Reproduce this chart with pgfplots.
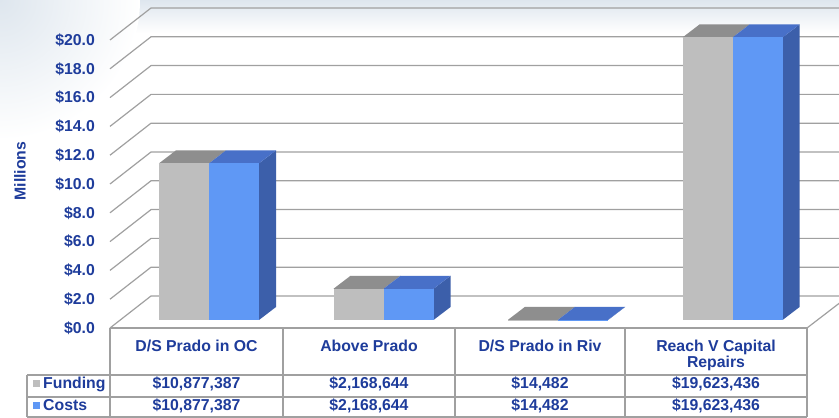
\documentclass[border=0pt]{standalone}
\usepackage{pgfplots}
\pgfplotsset{compat=1.18}
\usepackage{pgfplotstable}
\usepackage{fontspec}
\setmainfont{Liberation Sans}
\definecolor{txt}{RGB}{30,60,155}
\definecolor{gridc}{RGB}{160,160,160}
\definecolor{gfront}{RGB}{190,190,190}
\definecolor{gtop}{RGB}{142,142,142}
\definecolor{bfront}{RGB}{95,152,245}
\definecolor{btop}{RGB}{72,112,200}
\definecolor{bside}{RGB}{60,95,170}
\definecolor{bgtop}{RGB}{222,230,238}

\pgfplotstableread{
idx fund cost
0 10.877387 10.877387
1 2.168644 2.168644
2 0.014482 0.014482
3 19.623436 19.623436
}\datatable

\newcommand{\tfont}{\fontsize{15.8}{18}\selectfont\bfseries}

\begin{document}
\begin{tikzpicture}[x=1pt,y=1pt]
% background
\shade[top color=bgtop, bottom color=white] (0,385) rectangle (839,418);
\shade[inner color=bgtop, outer color=white] (0,418) circle (140);
\fill[white] (0,0) rectangle (839,278);
% back wall grid and left-wall diagonals
\foreach \k in {0,...,10}{
  \draw[gridc, line width=1.2pt] (110,{90+\k*28.8}) -- (151,{122+\k*28.8}) -- (850,{122+\k*28.8});
}
% floor right edge
\draw[gridc, line width=1.2pt] (807,90) -- (850,123);
% table
\draw[gridc, line width=1.4pt] (110,90) -- (807,90);
\draw[gridc, line width=1.4pt] (27,43) -- (807,43);
\draw[gridc, line width=1.4pt] (27,21) -- (807,21);
\draw[gridc, line width=1.4pt] (27,1) -- (807,1);
\foreach \xx in {110,283,455,625,807}{
  \draw[gridc, line width=1.4pt] (\xx,90) -- (\xx,1);
}
\draw[gridc, line width=1.4pt] (27,43) -- (27,1);

\begin{axis}[at={(110pt,90pt)}, anchor=south west, scale only axis,
  width=696pt, height=288pt, xmin=0, xmax=4, ymin=0, ymax=20, clip=false,
  axis line style={draw=none}, major tick length=0pt, xtick=\empty,
  ytick={0,2,...,20},
  /pgf/number format/assume math mode=true,
  yticklabel={\$\pgfmathprintnumber[fixed,fixed zerofill,precision=1]{\tick}},
  yticklabel style={font=\tfont, text=txt, inner sep=0pt, xshift=-15pt, anchor=east}]
\def\bb{0.5556}
\def\ddx{0.0977}
\def\ddy{0.9028}
\def\ww{0.2874}
\pgfplotsinvokeforeach{0,1,2,3}{
  \pgfplotstablegetelem{#1}{fund}\of\datatable
  \pgfmathsetmacro\tf{\bb+\pgfplotsretval}
  \pgfplotstablegetelem{#1}{cost}\of\datatable
  \pgfmathsetmacro\tc{\bb+\pgfplotsretval}
  \pgfmathsetmacro\xa{#1+0.2816+0.003*#1}
  \pgfmathsetmacro\xb{\xa+\ww}
  \pgfmathsetmacro\xc{\xb+\ww}
  \pgfmathsetmacro\xad{\xa+\ddx}
  \pgfmathsetmacro\xbd{\xb+\ddx}
  \pgfmathsetmacro\xcd{\xc+\ddx}
  \pgfmathsetmacro\tfd{\tf+\ddy}
  \pgfmathsetmacro\tcd{\tc+\ddy}
  \pgfmathsetmacro\bbd{\bb+\ddy}
  \edef\temp{%
    \noexpand\addplot[fill=gtop, draw=none] coordinates {(\xa,\tf) (\xb,\tf) (\xbd,\tfd) (\xad,\tfd)} -- cycle;
    \noexpand\addplot[fill=gfront, draw=none] coordinates {(\xa,\bb) (\xb,\bb) (\xb,\tf) (\xa,\tf)} -- cycle;
    \noexpand\addplot[fill=bside, draw=none] coordinates {(\xc,\bb) (\xcd,\bbd) (\xcd,\tcd) (\xc,\tc)} -- cycle;
    \noexpand\addplot[fill=btop, draw=none] coordinates {(\xb,\tc) (\xc,\tc) (\xcd,\tcd) (\xbd,\tcd)} -- cycle;
    \noexpand\addplot[fill=bfront, draw=none] coordinates {(\xb,\bb) (\xc,\bb) (\xc,\tc) (\xb,\tc)} -- cycle;
  }
  \temp
}
\end{axis}

% y axis title
\node[font=\tfont, text=txt, rotate=90] at (20,247) {Millions};

% table text
\begin{scope}[every node/.style={font=\tfont, text=txt, inner sep=0pt}]
\node[anchor=base] at (196.5,66) {D/S Prado in OC};
\node[anchor=base] at (369,66) {Above Prado};
\node[anchor=base] at (540,66) {D/S Prado in Riv};
\node[anchor=base] at (716,66) {Reach V Capital};
\node[anchor=base] at (716,50) {Repairs};
\node[anchor=base] at (196.5,29) {\$10,877,387};
\node[anchor=base] at (369,29) {\$2,168,644};
\node[anchor=base] at (540,29) {\$14,482};
\node[anchor=base] at (716,29) {\$19,623,436};
\node[anchor=base] at (196.5,7) {\$10,877,387};
\node[anchor=base] at (369,7) {\$2,168,644};
\node[anchor=base] at (540,7) {\$14,482};
\node[anchor=base] at (716,7) {\$19,623,436};
\node[anchor=base west] at (43,29) {Funding};
\node[anchor=base west] at (43,7) {Costs};
\end{scope}
\fill[gfront] (32.5,30.5) rectangle (39.5,37.5);
\fill[bfront] (32.5,8.5) rectangle (39.5,15.5);

\pgfresetboundingbox
\path[use as bounding box] (0,0) rectangle (839,418);
\end{tikzpicture}
\end{document}
